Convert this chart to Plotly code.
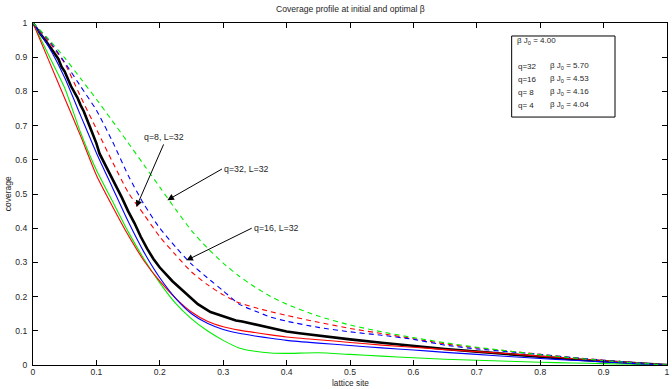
import plotly.graph_objects as go

# ---- data ----
x_grid = [0, 0.025, 0.05, 0.075, 0.1, 0.125, 0.15, 0.175, 0.2, 0.225, 0.25, 0.275, 0.3, 0.325,
          0.35, 0.375, 0.4, 0.45, 0.5, 0.55, 0.6, 0.65, 0.7, 0.75, 0.8, 0.85, 0.9, 0.95, 1.0]

green_solid = [1, 0.905, 0.81, 0.68, 0.57, 0.48, 0.39, 0.31, 0.24, 0.18, 0.135, 0.10, 0.072, 0.050,
               0.040, 0.035, 0.034, 0.036, 0.031, 0.026, 0.021, 0.017, 0.014, 0.011, 0.008, 0.006, 0.004, 0.002, 0]
red_solid = [1, 0.89, 0.78, 0.67, 0.555, 0.465, 0.38, 0.305, 0.245, 0.195, 0.155, 0.128, 0.112, 0.102,
             0.095, 0.088, 0.082, 0.074, 0.066, 0.058, 0.052, 0.045, 0.039, 0.033, 0.026, 0.019, 0.013, 0.006, 0]
blue_solid = [1, 0.93, 0.84, 0.73, 0.62, 0.52, 0.42, 0.33, 0.255, 0.195, 0.150, 0.122, 0.104, 0.093,
              0.085, 0.078, 0.072, 0.064, 0.057, 0.050, 0.044, 0.037, 0.031, 0.025, 0.019, 0.014, 0.009, 0.004, 0]
red_dashed = [1, 0.945, 0.882, 0.785, 0.69, 0.595, 0.505, 0.44, 0.375, 0.322, 0.272, 0.235, 0.205, 0.182,
              0.168, 0.156, 0.145, 0.125, 0.107, 0.092, 0.077, 0.062, 0.050, 0.041, 0.031, 0.022, 0.014, 0.007, 0]
blue_dashed = [1, 0.95, 0.885, 0.815, 0.745, 0.655, 0.555, 0.47, 0.40, 0.345, 0.295, 0.255, 0.217, 0.178,
               0.158, 0.140, 0.128, 0.110, 0.097, 0.087, 0.075, 0.058, 0.047, 0.039, 0.031, 0.022, 0.014, 0.007, 0]
green_dashed = [1, 0.952, 0.898, 0.838, 0.777, 0.714, 0.65, 0.585, 0.52, 0.455, 0.393, 0.342, 0.298, 0.26,
                0.228, 0.2, 0.178, 0.143, 0.117, 0.097, 0.080, 0.065, 0.052, 0.041, 0.030, 0.021, 0.013, 0.006, 0]

black_x = [0, 0.01, 0.02, 0.03, 0.04, 0.045, 0.05, 0.06, 0.07, 0.075, 0.08, 0.09, 0.10, 0.105, 0.11, 0.12,
           0.13, 0.14, 0.15, 0.16, 0.17, 0.18, 0.19, 0.20, 0.22, 0.24, 0.26, 0.28, 0.30, 0.32, 0.33,
           0.34, 0.36, 0.38, 0.40, 0.42, 0.44, 0.46, 0.48, 0.50, 0.55, 0.60, 0.65, 0.70, 0.75,
           0.80, 0.85, 0.90, 0.95, 1.0]
black_y = [1, 0.972, 0.948, 0.92, 0.895, 0.872, 0.858, 0.815, 0.782, 0.76, 0.742, 0.695, 0.648, 0.618, 0.6, 0.565,
           0.53, 0.49, 0.45, 0.415, 0.375, 0.34, 0.31, 0.285, 0.245, 0.21, 0.178, 0.155, 0.143, 0.130, 0.127,
           0.123, 0.114, 0.105, 0.098, 0.093, 0.088, 0.083, 0.079, 0.075, 0.065, 0.055, 0.047, 0.039, 0.031,
           0.024, 0.017, 0.011, 0.005, 0]

x_ticks = [0, 0.1, 0.2, 0.3, 0.4, 0.5, 0.6, 0.7, 0.8, 0.9, 1]
y_ticks = [0, 0.1, 0.2, 0.3, 0.4, 0.5, 0.6, 0.7, 0.8, 0.9, 1]

legend_q = ["q=32", "q=16", "q= 8", "q= 4"]
legend_bj = ["5.70", "4.53", "4.16", "4.04"]
initial_bj = "4.00"

arrow_labels = ["q=8, L=32", "q=32, L=32", "q=16, L=32"]
arrow_heads = [(0.163, 0.462), (0.212, 0.482), (0.242, 0.306)]
arrow_tails = [(0.206, 0.645), (0.298, 0.573), (0.345, 0.40)]

FONT = "Liberation Sans, Arial, Helvetica, sans-serif"
TXT = "#262626"
DASH = "5px,4px"

fig = go.Figure()
fig.add_trace(go.Scatter(x=black_x, y=black_y, mode="lines", line=dict(color="black", width=2.6)))
fig.add_trace(go.Scatter(x=x_grid, y=green_solid, mode="lines", line=dict(color="#00ee00", width=1.1, shape="spline", smoothing=0.6)))
fig.add_trace(go.Scatter(x=x_grid, y=red_solid, mode="lines", line=dict(color="#ff0000", width=1.1, shape="spline", smoothing=0.6)))
fig.add_trace(go.Scatter(x=x_grid, y=blue_solid, mode="lines", line=dict(color="#0000ff", width=1.1, shape="spline", smoothing=0.6)))
fig.add_trace(go.Scatter(x=x_grid, y=red_dashed, mode="lines", line=dict(color="#ff0000", width=1.1, dash=DASH, shape="spline", smoothing=0.6)))
fig.add_trace(go.Scatter(x=x_grid, y=blue_dashed, mode="lines", line=dict(color="#0000ff", width=1.1, dash=DASH, shape="spline", smoothing=0.6)))
fig.add_trace(go.Scatter(x=x_grid, y=green_dashed, mode="lines", line=dict(color="#00ee00", width=1.1, dash=DASH, shape="spline", smoothing=0.6)))

annotations = []
# arrows with labels (label box anchored at arrow tail)
anchors = [("center", "bottom"), ("left", "middle"), ("left", "middle")]
for lab, (hx, hy), (tx, ty), (xa, ya) in zip(arrow_labels, arrow_heads, arrow_tails, anchors):
    annotations.append(dict(x=hx, y=hy, ax=tx, ay=ty, xref="x", yref="y", axref="x", ayref="y",
                            text=lab, xanchor=xa, yanchor=ya, showarrow=True, arrowhead=2, arrowsize=1.3,
                            arrowwidth=1, arrowcolor="black", standoff=0, startstandoff=0,
                            font=dict(family=FONT, size=8.8, color=TXT)))

# legend box text
annotations.append(dict(x=0.760, y=0.946, xref="paper", yref="paper", xanchor="left", yanchor="middle",
                        text="β J<sub>0</sub> = " + initial_bj, showarrow=False,
                        font=dict(family=FONT, size=8, color=TXT)))
leg_y = [0.873, 0.835, 0.797, 0.759]
for q, bj, yy in zip(legend_q, legend_bj, leg_y):
    annotations.append(dict(x=0.762, y=yy, xref="paper", yref="paper", xanchor="left", yanchor="middle",
                            text=q, showarrow=False, font=dict(family=FONT, size=8, color=TXT)))
    annotations.append(dict(x=0.812, y=yy, xref="paper", yref="paper", xanchor="left", yanchor="middle",
                            text="β J<sub>0</sub> = " + bj, showarrow=False,
                            font=dict(family=FONT, size=8, color=TXT)))

# axis titles
annotations.append(dict(x=-0.039, y=0.5, xref="paper", yref="paper", text="coverage", textangle=-90,
                        showarrow=False, xanchor="center", yanchor="middle",
                        font=dict(family=FONT, size=8.5, color=TXT)))
annotations.append(dict(x=0.5, y=-0.054, xref="paper", yref="paper", text="lattice site",
                        showarrow=False, xanchor="center", yanchor="middle",
                        font=dict(family=FONT, size=8.3, color=TXT)))
# title
annotations.append(dict(x=0.5, y=1.04, xref="paper", yref="paper", text="Coverage profile at initial and optimal β",
                        showarrow=False, xanchor="center", yanchor="middle",
                        font=dict(family=FONT, size=8.6, color=TXT)))

fig.update_layout(
    width=672, height=389,
    margin=dict(l=33, r=2, t=23, b=24),
    paper_bgcolor="white", plot_bgcolor="white",
    showlegend=False,
    annotations=annotations,
    shapes=[dict(type="rect", xref="paper", yref="paper", x0=0.755, x1=0.918, y0=0.725, y1=0.962,
                 line=dict(color="black", width=1), fillcolor="white", layer="above")],
    font=dict(family=FONT, size=8, color=TXT),
)
axis_common = dict(showgrid=False, zeroline=False, showline=True, linecolor="black", linewidth=1,
                   mirror="ticks", ticks="inside", ticklen=5, tickcolor="black", tickwidth=1,
                   tickfont=dict(family=FONT, size=8.6, color=TXT), fixedrange=True,
                   ticklabeloverflow="allow")
fig.update_xaxes(range=[0, 1], tickvals=x_ticks, ticktext=[f"{v:g}" for v in x_ticks], ticklabelstandoff=-1, **axis_common)
fig.update_yaxes(range=[0, 1], tickvals=y_ticks, ticktext=[f"{v:g}" for v in y_ticks], ticklabelstandoff=3, **axis_common)

fig.write_html("out.html", config={"displayModeBar": False},
               post_script="document.body.style.margin='0px';document.body.style.padding='0px';")
